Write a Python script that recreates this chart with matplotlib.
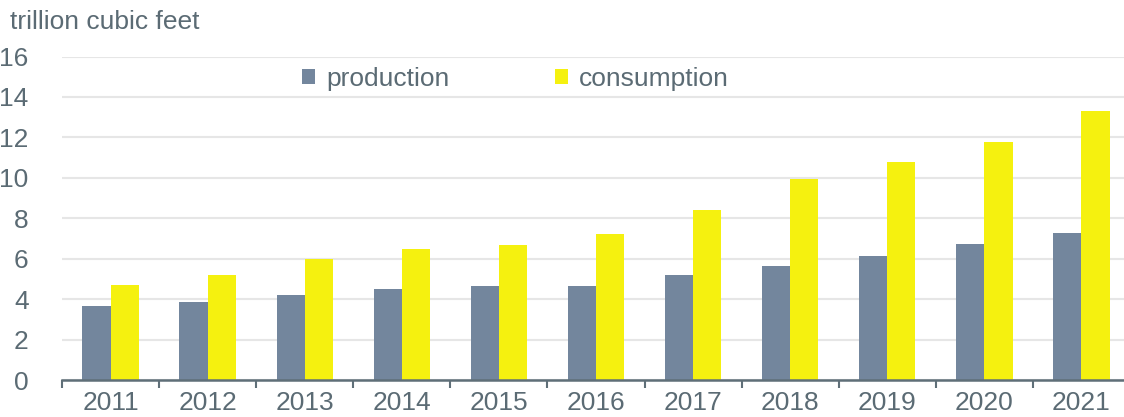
import matplotlib
matplotlib.use("Agg")
import matplotlib.pyplot as plt
import numpy as np

years = ["2011", "2012", "2013", "2014", "2015", "2016", "2017", "2018", "2019", "2020", "2021"]
production = [3.65, 3.85, 4.2, 4.5, 4.65, 4.65, 5.19, 5.63, 6.12, 6.72, 7.26]
consumption = [4.69, 5.19, 5.98, 6.49, 6.68, 7.23, 8.4, 9.93, 10.77, 11.75, 13.32]
yticks = [0, 2, 4, 6, 8, 10, 12, 14, 16]

plt.rcParams['font.family'] = ['Liberation Sans', 'DejaVu Sans']
txt = '#5b6b74'
prod_c = '#73869d'
cons_c = '#f5f10f'
fs = 19

W, H = 1124, 417
fig = plt.figure(figsize=(W / 100, H / 100), dpi=100)
ax = fig.add_axes([62 / W, 37 / H, 1068 / W, 323.5 / H])

x = np.arange(len(years))
bw = 0.29
ax.bar(x, production, width=-bw, align='edge', color=prod_c, label='production', zorder=3)
ax.bar(x, consumption, width=bw, align='edge', color=cons_c, label='consumption', zorder=3)

ax.set_xlim(-0.5, len(years) - 0.5)
ax.set_ylim(0, 16)
ax.set_yticks(yticks)
ax.yaxis.grid(True, color='#e6e6e6', lw=1.5, zorder=0)
ax.set_axisbelow(True)

ax.set_xticks(np.arange(len(years) + 1) - 0.5)
ax.set_xticklabels([])
ax.set_xticks(x, minor=True)
ax.set_xticklabels(years, minor=True)
ax.tick_params(axis='x', which='major', length=6, width=1.5, color='#5f6f78', direction='out')
ax.tick_params(axis='x', which='minor', length=0, pad=8, labelsize=fs, labelcolor=txt)
ax.tick_params(axis='y', length=0, pad=24, labelsize=fs, labelcolor=txt)
for lab in ax.get_yticklabels():
    lab.set_horizontalalignment('right')

for s in ['top', 'right', 'left']:
    ax.spines[s].set_visible(False)
ax.spines['bottom'].set_color('#5f6f78')
ax.spines['bottom'].set_linewidth(1.8)
ax.spines['bottom'].set_zorder(4)

fig.text(10 / W, 1 - 22 / H, 'trillion cubic feet', fontsize=fs, color=txt, va='center', ha='left')

leg = ax.legend(loc='center left', bbox_to_anchor=((302 - 62) / 1068, (380 - 79) / 323.5),
                ncol=2, frameon=False, fontsize=fs, handlelength=0.5, handleheight=0.5,
                handletextpad=0.42, columnspacing=4.0, borderaxespad=0, borderpad=0)
for t in leg.get_texts():
    t.set_color(txt)

fig.savefig('out.png', dpi=100)
